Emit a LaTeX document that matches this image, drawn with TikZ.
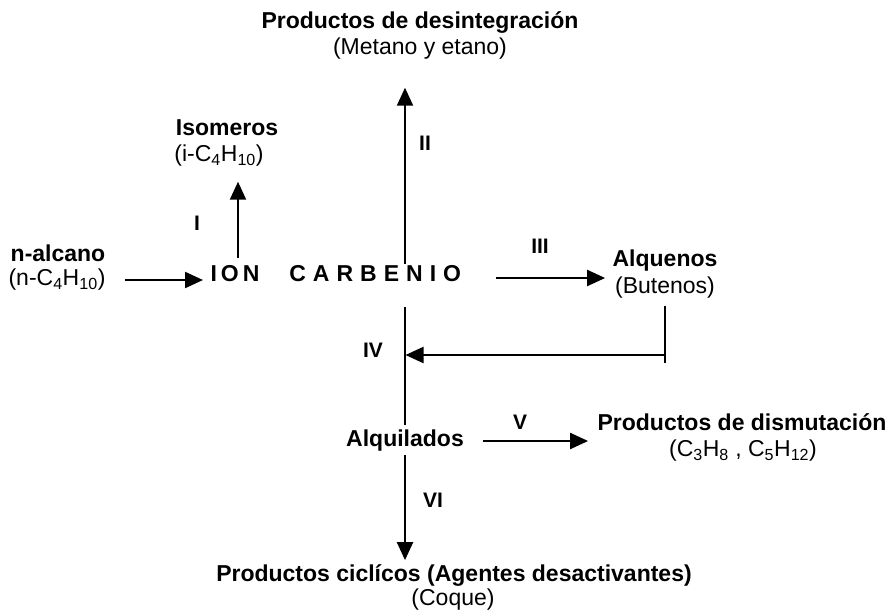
\documentclass[tikz,border=0pt]{standalone}
\usepackage{fontspec}
\setmainfont{Liberation Sans}
\usetikzlibrary{arrows.meta}
\newcommand\lsa{\hspace{4pt}}
\newcommand\ls{\hspace{7pt}}
\newcommand\sbs[1]{\textsubscript{#1}}
\begin{document}
\begin{tikzpicture}[x=1pt,y=-1pt,
  every node/.style={inner sep=0pt,outer sep=0pt},
  bt/.style={font=\fontsize{23}{26}\selectfont\bfseries},
  rt/.style={font=\fontsize{23}{26}\selectfont},
  lbl/.style={font=\fontsize{21}{24}\selectfont\bfseries},
  ionst/.style={font=\fontsize{23}{26}\selectfont\bfseries},
  ln/.style={line width=2.2pt},
  arr/.style={line width=2.2pt,-{Triangle[length=18pt,width=16pt]}}]
\useasboundingbox (0,0) rectangle (891,611);
% texts
\node[bt] (desint) at (420,22) {Productos de desintegración};
\node[rt] (metano) at (420,49) {(Metano y etano)};
\node[bt] (iso) at (227,128) {Isomeros};
\node[rt] (isoC) at (219,156) {(i-C\sbs{4}H\sbs{10})};
\node[bt] (nalc) at (58,253) {n-alcano};
\node[rt] (nalcC) at (57,280) {(n-C\sbs{4}H\sbs{10})};
\node[ionst,anchor=west] (ion) at (210.5,274) {I\lsa O\lsa N\hspace{30pt}C\ls A\ls R\ls B\ls E\ls N\ls I\ls O};
\node[bt] (alq) at (665,261) {Alquenos};
\node[rt] (but) at (665,288) {(Butenos)};
\node[bt] (alqui) at (405,441) {Alquilados};
\node[bt] (dism) at (742,422) {Productos de dismutación};
\node[rt] (dismC) at (743,451) {(C\sbs{3}H\sbs{8} , C\sbs{5}H\sbs{12})};
\node[bt] (cicl) at (454,575) {Productos ciclícos (Agentes desactivantes)};
\node[rt] (coque) at (453,600) {(Coque)};
% step labels
\node[lbl] (lI) at (197,223) {I};
\node[lbl] (lII) at (425,143) {II};
\node[lbl] (lIII) at (540,246) {III};
\node[lbl] (lIV) at (373,350) {IV};
\node[lbl] (lV) at (520,422) {V};
\node[lbl] (lVI) at (433,500) {VI};
% axes
\coordinate (axis) at (405,0);
\coordinate (iax) at (238,0);
\coordinate (join) at (665,355);
% connectors
\draw[arr,shorten <=20pt,shorten >=7.5pt] (nalcC.east) -- (nalcC.east -| ion.west);
\draw[arr,shorten <=8pt,shorten >=15pt] (ion.north -| iax) -- (isoC.south -| iax);
\draw[arr,shorten <=2pt,shorten >=28pt] (ion.north -| axis) -- (metano.south -| axis);
\draw[arr,shorten <=35pt,shorten >=7.5pt] ([yshift=-4pt]ion.east) -- ([yshift=-4pt]ion.east -| alq.west);
\draw[ln,shorten <=25pt,shorten >=5.5pt] (ion.south -| axis) -- (alqui.north -| axis);
\draw[ln,shorten <=7pt] (but.south) -- (join) -- ++(0,8);
\draw[arr,shorten >=0.5pt] (join) -- (join -| axis);
\draw[arr,shorten <=19pt,shorten >=9.5pt] (alqui.east) -- (alqui.east -| dism.west);
\draw[arr,shorten <=3.5pt,shorten >=4pt] (alqui.south -| axis) -- (cicl.north -| axis);
\end{tikzpicture}
\end{document}
